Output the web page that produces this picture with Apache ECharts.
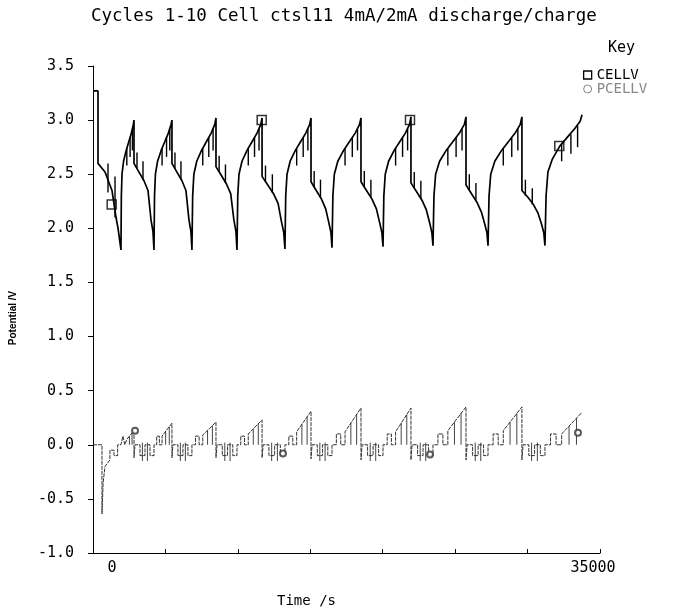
<!DOCTYPE html>
<html>
<head>
<meta charset="utf-8">
<script src="https://cdn.jsdelivr.net/npm/echarts@6/dist/echarts.min.js"></script>
<style>html,body{margin:0;padding:0;background:#fff;}#chart{width:694px;height:610px;}</style>
</head>
<body>
<div id="chart"></div>
<script>
const titleText = 'Cycles 1-10 Cell ctsl11 4mA/2mA discharge/charge';
const xLabelsShown = [0, 35000];

// CELLV trace [time s, potential V]
const cellv = [
 [0,3.27],[345,3.27],[345,2.60],[830,2.52],[1310,2.35],[1590,2.10],[1730,2.00],[1930,1.80],
 [1957,2.30],[2002,2.50],[2110,2.62],[2290,2.72],[2470,2.80],[2650,2.88],[2785,2.96],[2830,3.00],
 [2830,2.60],[3175,2.52],[3520,2.44],[3796,2.35],[4003,2.08],[4141,1.97],[4210,1.80],
 [4247,2.30],[4309,2.50],[4458,2.62],[4706,2.72],[4954,2.80],[5202,2.88],[5388,2.96],[5450,3.00],
 [5450,2.60],[5795,2.52],[6140,2.44],[6416,2.35],[6623,2.08],[6761,1.97],[6830,1.80],
 [6880,2.30],[6963,2.50],[7162,2.62],[7494,2.72],[7826,2.80],[8158,2.88],[8407,2.96],[8490,3.02],
 [8490,2.57],[8853,2.49],[9215,2.41],[9505,2.32],[9723,2.08],[9868,1.97],[9940,1.80],
 [9992,2.30],[10078,2.50],[10286,2.62],[10632,2.72],[10978,2.80],[11324,2.88],[11584,2.96],[11670,3.02],
 [11670,2.48],[12065,2.40],[12460,2.32],[12776,2.23],[13013,2.06],[13171,1.96],[13250,1.81],
 [13304,2.30],[13394,2.50],[13610,2.62],[13970,2.72],[14330,2.80],[14690,2.88],[14960,2.96],[15050,3.02],
 [15050,2.43],[15413,2.35],[15775,2.27],[16065,2.18],[16283,2.05],[16428,1.96],[16500,1.82],
 [16560,2.30],[16660,2.50],[16900,2.62],[17300,2.72],[17700,2.80],[18100,2.88],[18400,2.96],[18500,3.02],
 [18500,2.43],[18880,2.35],[19260,2.27],[19564,2.18],[19792,2.05],[19944,1.96],[20020,1.83],
 [20078,2.30],[20174,2.50],[20406,2.62],[20792,2.72],[21178,2.80],[21564,2.88],[21854,2.96],[21950,3.03],
 [21950,2.42],[22330,2.34],[22710,2.26],[23014,2.17],[23242,2.05],[23394,1.96],[23470,1.84],
 [23538,2.30],[23652,2.50],[23926,2.62],[24382,2.72],[24838,2.80],[25294,2.88],[25636,2.96],[25750,3.03],
 [25750,2.40],[26130,2.32],[26510,2.24],[26814,2.15],[27042,2.04],[27194,1.96],[27270,1.84],
 [27340,2.30],[27457,2.50],[27738,2.62],[28206,2.72],[28674,2.80],[29142,2.88],[29493,2.96],[29610,3.03],
 [29610,2.35],[30008,2.29],[30405,2.22],[30723,2.14],[30962,2.04],[31121,1.96],[31200,1.84],
 [31277,2.30],[31405,2.52],[31712,2.64],[32224,2.76],[32736,2.84],[33248,2.92],[33632,2.99],[33760,3.05]
];

// CELLV short vertical excursions [time, low V, high V]
const cellvSpikes = [
 [1035,2.33,2.60],[1520,2.10,2.48],
 [2335,2.58,2.74],[2560,2.66,2.84],[2722,2.72,2.92],[3037,2.55,2.70],[3451,2.45,2.62],
 [4768,2.58,2.74],[5078,2.66,2.84],[5301,2.72,2.92],[5657,2.55,2.70],[6071,2.45,2.62],
 [7577,2.58,2.74],[7992,2.66,2.84],[8291,2.72,2.92],[8708,2.52,2.67],[9143,2.42,2.59],
 [10719,2.58,2.74],[11151,2.66,2.84],[11462,2.72,2.92],[11907,2.43,2.58],[12381,2.33,2.50],
 [14060,2.58,2.74],[14510,2.66,2.84],[14834,2.72,2.92],[15268,2.38,2.53],[15703,2.28,2.45],
 [17400,2.58,2.74],[17900,2.66,2.84],[18260,2.72,2.92],[18728,2.38,2.53],[19184,2.28,2.45],
 [20889,2.58,2.74],[21371,2.66,2.84],[21718,2.72,2.92],[22178,2.37,2.52],[22634,2.27,2.44],
 [24496,2.58,2.74],[25066,2.66,2.84],[25476,2.72,2.92],[25978,2.35,2.50],[26434,2.25,2.42],
 [28323,2.58,2.74],[28908,2.66,2.84],[29329,2.72,2.92],[29849,2.30,2.45],[30326,2.22,2.37],
 [32352,2.62,2.78],[32992,2.69,2.87],[33453,2.75,2.95]
];

const cellvMarkers = [[1290,2.22],[11645,3.00],[21883,3.00],[32190,2.76]];

// PCELLV trace [time s, potential V]
const pcellv = [
 [0,0],[620,0],[620,-0.64],[700,-0.35],[830,-0.20],[1170,-0.14],[1170,-0.05],[1450,-0.05],[1450,-0.10],[1700,-0.10],[1700,0],
 [1930,0],[2065,0],[2065,0.08],[2200,0.08],[2200,0],[2335,0],[2335,0.05],[2830,0.13],
 [2830,-0.12],[2899,0],[3244,0],[3244,-0.1],[3589,-0.1],[3589,0],[3934,0],[3934,-0.1],[4210,-0.1],
 [4210,0],[4396,0],[4396,0.08],[4582,0.08],[4582,0],[4768,0],[4768,0.08],[5450,0.20],
 [5450,-0.12],[5519,0],[5864,0],[5864,-0.1],[6209,-0.1],[6209,0],[6554,0],[6554,-0.1],[6830,-0.1],
 [6830,0],[7079,0],[7079,0.08],[7328,0.08],[7328,0],[7577,0],[7577,0.09],[8490,0.21],
 [8490,-0.12],[8563,0],[8925,0],[8925,-0.1],[9288,-0.1],[9288,0],[9650,0],[9650,-0.1],[9940,-0.1],
 [9940,0],[10200,0],[10200,0.08],[10459,0.08],[10459,0],[10719,0],[10719,0.10],[11670,0.23],
 [11670,-0.12],[11749,0],[12144,0],[12144,-0.1],[12539,-0.1],[12539,0],[12934,0],[12934,-0.1],[13250,-0.1],
 [13250,0],[13520,0],[13520,0.08],[13790,0.08],[13790,0],[14060,0],[14060,0.12],[15050,0.31],
 [15050,-0.13],[15123,0],[15485,0],[15485,-0.1],[15848,-0.1],[15848,0],[16210,0],[16210,-0.1],[16500,-0.1],
 [16500,0],[16800,0],[16800,0.10],[17100,0.10],[17100,0],[17400,0],[17400,0.12],[18500,0.34],
 [18500,-0.14],[18576,0],[18956,0],[18956,-0.1],[19336,-0.1],[19336,0],[19716,0],[19716,-0.1],[20020,-0.1],
 [20020,0],[20310,0],[20310,0.10],[20599,0.10],[20599,0],[20889,0],[20889,0.12],[21950,0.34],
 [21950,-0.14],[22026,0],[22406,0],[22406,-0.1],[22786,-0.1],[22786,0],[23166,0],[23166,-0.1],[23470,-0.1],
 [23470,0],[23812,0],[23812,0.10],[24154,0.10],[24154,0],[24496,0],[24496,0.13],[25750,0.35],
 [25750,-0.14],[25826,0],[26206,0],[26206,-0.1],[26586,-0.1],[26586,0],[26966,0],[26966,-0.1],[27270,-0.1],
 [27270,0],[27621,0],[27621,0.10],[27972,0.10],[27972,0],[28323,0],[28323,0.13],[29610,0.35],
 [29610,-0.14],[29690,0],[30087,0],[30087,-0.1],[30485,-0.1],[30485,0],[30882,0],[30882,-0.1],[31200,-0.1],
 [31200,0],[31584,0],[31584,0.10],[31968,0.10],[31968,0],[32352,0],[32352,0.10],[33760,0.30]
];

// PCELLV short vertical excursions [time, low V, high V]
const pcellvSpikes = [
 [2515,0,0.079],[2695,0,0.108],[3410,-0.15,0.02],[3755,-0.15,0.02],
 [5016,0,0.124],[5264,0,0.167],[6030,-0.15,0.02],[6375,-0.15,0.02],
 [7909,0,0.134],[8241,0,0.177],[9099,-0.15,0.02],[9462,-0.15,0.02],
 [11065,0,0.147],[11411,0,0.195],[12334,-0.15,0.02],[12729,-0.15,0.02],
 [14420,0,0.189],[14780,0,0.258],[15659,-0.15,0.02],[16022,-0.15,0.02],
 [17800,0,0.200],[18200,0,0.280],[19138,-0.15,0.02],[19518,-0.15,0.02],
 [21275,0,0.200],[21661,0,0.280],[22588,-0.15,0.02],[22968,-0.15,0.02],
 [24952,0,0.210],[25408,0,0.290],[26388,-0.15,0.02],[26768,-0.15,0.02],
 [28791,0,0.210],[29259,0,0.290],[30278,-0.15,0.02],[30675,-0.15,0.02],
 [32864,0,0.173],[33376,0,0.245]
];

const pcellvMarkers = [[2900,0.13],[13116,-0.08],[23263,-0.09],[33480,0.11]];

const MONO = 'DejaVu Sans Mono';

function spikeRenderer(color, width) {
  return function (params, api) {
    const a = api.coord([api.value(0), api.value(1)]);
    const b = api.coord([api.value(0), api.value(2)]);
    return { type: 'line', shape: { x1: a[0], y1: a[1], x2: b[0], y2: b[1] },
             style: { stroke: color, lineWidth: width } };
  };
}

const chart = echarts.init(document.getElementById('chart'), null, { renderer: 'canvas' });
chart.setOption({
  animation: false,
  backgroundColor: '#fff',
  title: [
    { text: titleText, left: 86, top: 2, textStyle: { fontFamily: MONO, fontSize: 17.5, fontWeight: 'normal', color: '#000' } },
    { text: 'Key', left: 603, top: 36, textStyle: { fontFamily: MONO, fontSize: 15, fontWeight: 'normal', color: '#000' } },
    { text: 'Time /s', left: 272, top: 589, textStyle: { fontFamily: MONO, fontSize: 14, fontWeight: 'normal', color: '#000' } }
  ],
  graphic: [
    { type: 'text', x: 13, y: 318, rotation: Math.PI / 2,
      style: { text: 'Potential /V', font: 'bold 10px "Liberation Sans"', fill: '#000', textAlign: 'center', textVerticalAlign: 'middle' } }
  ],
  legend: {
    left: 578, top: 63, orient: 'vertical', itemGap: 0, itemWidth: 8, itemHeight: 8, selectedMode: false,
    textStyle: { fontFamily: MONO, fontSize: 14, color: '#000' },
    data: [
      { name: 'CELLV', icon: 'rect', itemStyle: { color: '#fff', borderColor: '#000', borderWidth: 1.3 } },
      { name: 'PCELLV', icon: 'circle', itemStyle: { color: '#fff', borderColor: '#888', borderWidth: 1 }, textStyle: { color: '#888' } }
    ]
  },
  grid: { left: 93, right: 94, top: 66, bottom: 57 },
  xAxis: {
    type: 'value', min: 0, max: 35000, interval: 5000,
    axisLine: { show: true, onZero: false, lineStyle: { color: '#000', width: 1 } },
    axisTick: { show: true, inside: true, length: 4, lineStyle: { color: '#000' } },
    splitLine: { show: false },
    axisLabel: {
      margin: 8, fontFamily: MONO, fontSize: 15, color: '#000',
      formatter: function (v) {
        if (v === xLabelsShown[0]) return '{l|' + v + '}';
        if (v === xLabelsShown[1]) return '{r|' + v + '}';
        return '';
      },
      rich: {
        l: { fontFamily: MONO, fontSize: 15, color: '#000', padding: [0, 0, 0, 38] },
        r: { fontFamily: MONO, fontSize: 15, color: '#000', padding: [0, 14, 0, 0] }
      }
    }
  },
  yAxis: {
    type: 'value', min: -1, max: 3.5, interval: 0.5,
    axisLine: { show: true, onZero: false, lineStyle: { color: '#000', width: 1 } },
    axisTick: { show: true, inside: false, length: 5, lineStyle: { color: '#000' } },
    splitLine: { show: false },
    axisLabel: { margin: 19, fontFamily: MONO, fontSize: 15, color: '#000',
      formatter: function (v) { return v.toFixed(1); } }
  },
  series: [
    { name: 'CELLV', type: 'line', data: cellv, showSymbol: false, symbol: 'none',
      lineStyle: { color: '#000', width: 1.7 }, itemStyle: { color: '#000' }, z: 3 },
    { name: 'CELLV', type: 'custom', data: cellvSpikes, encode: { x: 0, y: [1, 2] },
      renderItem: spikeRenderer('#000', 1.4), z: 3 },
    { name: 'CELLV', type: 'scatter', data: cellvMarkers, symbol: 'rect', symbolSize: 9,
      itemStyle: { color: 'rgba(0,0,0,0)', borderColor: '#000', borderWidth: 1.5 }, z: 4 },
    { name: 'PCELLV', type: 'line', data: pcellv, showSymbol: false, symbol: 'none',
      lineStyle: { color: '#333', width: 1, type: [4, 1] }, itemStyle: { color: '#333' }, z: 2 },
    { name: 'PCELLV', type: 'custom', data: pcellvSpikes, encode: { x: 0, y: [1, 2] },
      renderItem: spikeRenderer('#444', 1), z: 2 },
    { name: 'PCELLV', type: 'scatter', data: pcellvMarkers, symbol: 'emptyCircle', symbolSize: 6,
      itemStyle: { color: '#333', borderColor: '#333', borderWidth: 1 }, z: 4 }
  ]
});
</script>
</body>
</html>
